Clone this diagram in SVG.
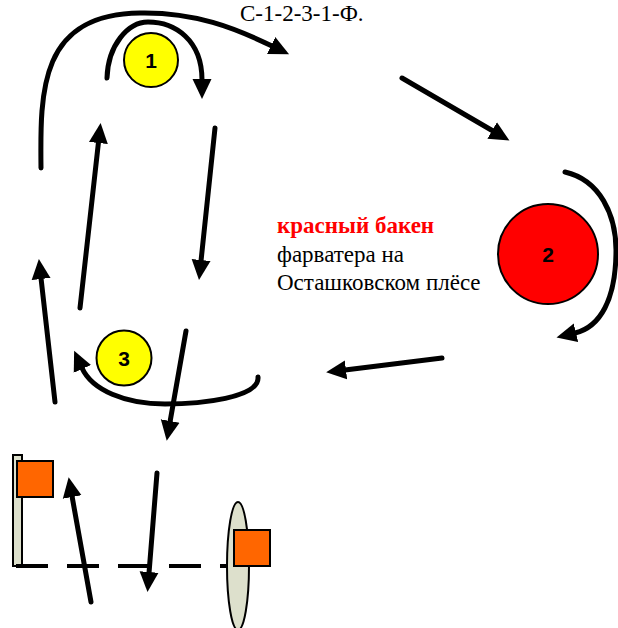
<svg xmlns="http://www.w3.org/2000/svg" width="618" height="628" viewBox="0 0 618 628">
<style>
.arr{fill:none;stroke:#000;stroke-width:5;stroke-linecap:round;marker-end:url(#ah)}
.buoy{stroke:#000;stroke-width:2}
.num{font-family:'Liberation Sans',Arial,sans-serif;font-weight:bold;font-size:21px;text-anchor:middle;fill:#000}
.lbl{font-family:'Liberation Serif','Times New Roman',serif;font-size:23px;fill:#000}
.flag{fill:#FF6600;stroke:#000;stroke-width:2}
.pole{fill:#DDE0CC;stroke:#000;stroke-width:2}
</style>
<defs>
<marker id="ah" markerUnits="userSpaceOnUse" viewBox="0 -10 21 20" markerWidth="21" markerHeight="20" refX="1" refY="0" orient="auto">
<path d="M0,-9.5 L20,0 L0,9.5 z" fill="#000"/>
</marker>
</defs>
<rect width="618" height="628" fill="#fff"/>
<text class="lbl" font-family="Liberation Serif, serif" x="240" y="21" font-size="22.5">С-1-2-3-1-Ф.</text>
<g id="label" font-family="Liberation Serif, serif">
<text class="lbl" x="277" y="233" font-weight="bold" style="fill:#FF0000">красный бакен</text>
<text class="lbl" x="277" y="261.5">фарватера на</text>
<text class="lbl" x="277" y="290">Осташковском плёсе</text>
</g>
<g id="start-line">
<rect class="pole" x="13" y="455" width="9" height="111"/>
<rect class="flag" x="17" y="461" width="36" height="36"/>
<line x1="16" y1="566" x2="235" y2="566" stroke="#000" stroke-width="4" stroke-dasharray="32,19"/>
<ellipse class="pole" cx="238" cy="566" rx="11" ry="64"/>
<rect class="flag" x="234" y="530" width="36" height="36"/>
</g>
<g id="buoy1">
<circle class="buoy" cx="151" cy="60" r="27" fill="#FFFF00"/>
<text class="num" x="151" y="68">1</text>
</g>
<g id="buoy2">
<circle class="buoy" cx="548" cy="254" r="50" fill="#FF0000"/>
<text class="num" x="548" y="262">2</text>
</g>
<g id="buoy3">
<circle class="buoy" cx="124" cy="358" r="27.5" fill="#FFFF00"/>
<text class="num" x="124" y="366">3</text>
</g>
<g id="connectors">
<path class="arr" d="M41,168 C40,90 40,14 140,13 C195,12 235,28 272,46"/>
<path class="arr" d="M107,78 C108,45 128,22 148,22 C175,22 202,40 202,80"/>
<path class="arr" d="M80,308 L98.5,142"/>
<path class="arr" d="M215,128 L201,261"/>
<path class="arr" d="M55,402 L41,278"/>
<path class="arr" d="M402,78 L493,131"/>
<path class="arr" d="M565,172 C600,180 616,215 616,250 C616,300 600,327 575,333"/>
<path class="arr" d="M442,358 L345,370"/>
<path class="arr" d="M258,377 C260,398 200,404 165,404 C125,404 92,390 82,368"/>
<path class="arr" d="M186,331 L170,422"/>
<path class="arr" d="M157,473 L149,573"/>
<path class="arr" d="M91,602 L72,496"/>
</g>
</svg>
